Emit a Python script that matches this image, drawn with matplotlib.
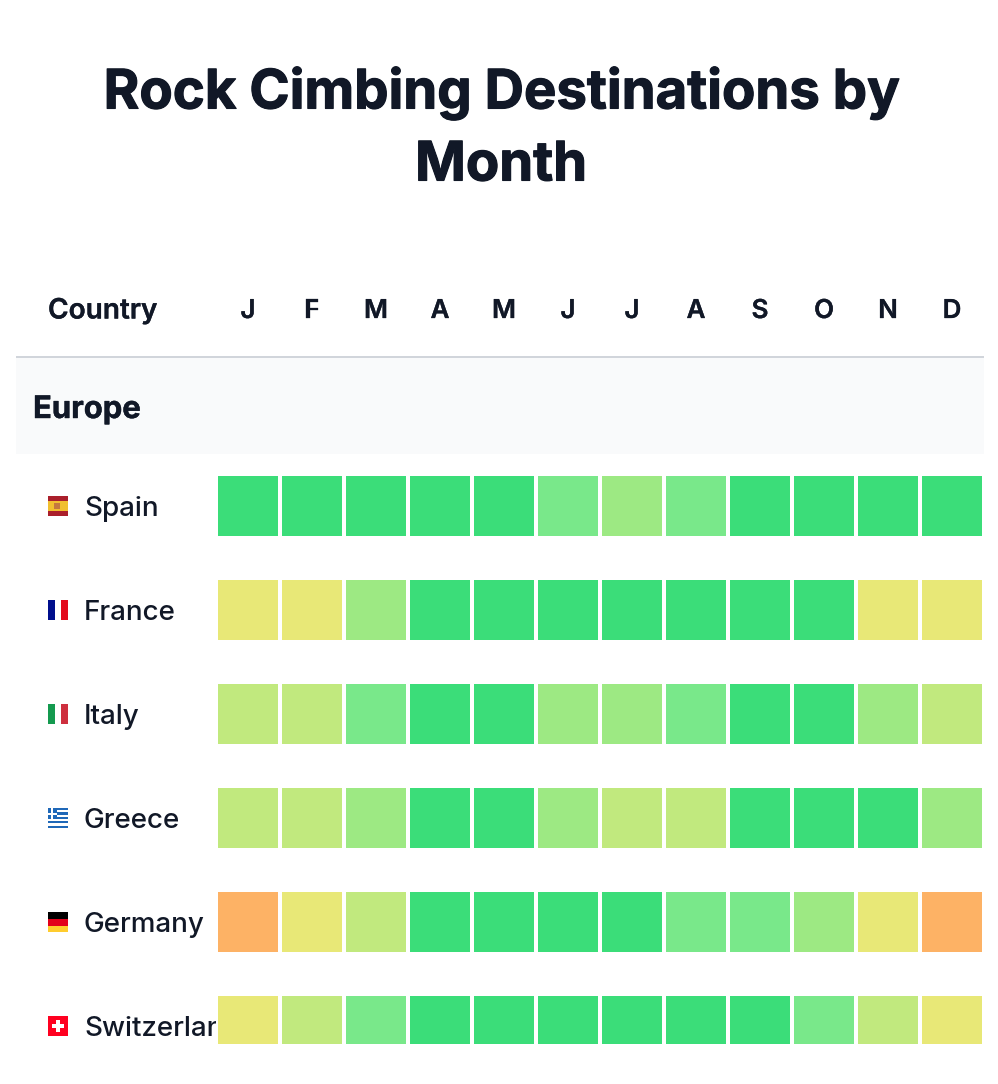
import matplotlib
matplotlib.use("Agg")
import matplotlib.pyplot as plt
import matplotlib.patheffects as pe
from matplotlib.patches import Rectangle
import numpy as np

plt.rcParams['font.family'] = ['Inter', 'DejaVu Sans']

months = ["J", "F", "M", "A", "M", "J", "J", "A", "S", "O", "N", "D"]
countries = ["Spain", "France", "Italy", "Greece", "Germany", "Switzerland"]
spain = [5, 5, 5, 5, 5, 4, 3, 4, 5, 5, 5, 5]
france = [1, 1, 3, 5, 5, 5, 5, 5, 5, 5, 1, 1]
italy = [2, 2, 4, 5, 5, 3, 3, 4, 5, 5, 3, 2]
greece = [2, 2, 3, 5, 5, 3, 2, 2, 5, 5, 5, 3]
germany = [0, 1, 2, 5, 5, 5, 5, 4, 4, 3, 1, 0]
switzerland = [1, 2, 4, 5, 5, 5, 5, 5, 5, 4, 2, 1]
palette = ["#FDB265", "#E8E877", "#C1E97E", "#9DE983", "#79E88A", "#3BDD79"]
INK = "#111827"

W, H = 998, 1084
fig = plt.figure(figsize=(W / 100, H / 100), dpi=100, facecolor="white")

page = fig.add_axes([0, 0, 1, 1])
page.set_xlim(0, W)
page.set_ylim(H, 0)
page.axis("off")

def px(v):
    return v * 0.72

def thick(amount):
    return [pe.withStroke(linewidth=amount, foreground=INK)]

page.text(501, 93, "Rock Cimbing Destinations by", ha="center", va="center",
          fontsize=px(54.5), fontweight="bold", color=INK, path_effects=thick(0.8))
page.text(501, 166.5, "Month", ha="center", va="center",
          fontsize=px(54.5), fontweight="bold", color=INK, path_effects=thick(0.8))
page.text(48, 311, "Country", ha="left", va="center", fontsize=px(28),
          fontweight="semibold", color=INK, path_effects=thick(0.2))
page.add_patch(Rectangle((16, 356), 968, 2, fc="#D1D5DB", ec="none"))
page.add_patch(Rectangle((16, 358), 968, 96, fc="#F9FAFB", ec="none"))
page.text(33, 410, "Europe", ha="left", va="center", fontsize=px(31),
          fontweight="bold", color=INK, path_effects=thick(0.3))

ax = fig.add_axes([216 / W, 1 - 1044 / H, 768 / W, 590 / H], facecolor="none")
ax.set_xlim(-0.5, 11.5)
ax.set_ylim(538 / 104, -0.5)
ax.axis("off")
rows = [spain, france, italy, greece, germany, switzerland]
for r, row in enumerate(rows):
    ax.bar(np.arange(12), [60 / 104] * 12, width=60 / 64,
           bottom=r - 30 / 104, color=[palette[v] for v in row], linewidth=0)

for j, m in enumerate(months):
    page.text(248 + 64 * j, 311, m, ha="center", va="center", fontsize=px(26),
              fontweight="semibold", color=INK, path_effects=thick(0.2))

clip = Rectangle((0, 0), 216, H, transform=page.transData)
for r, name in enumerate(countries):
    t = page.text(84, 509 + 104 * r, name, ha="left", va="center",
                  fontsize=px(27.8), fontweight="medium", color=INK, clip_on=True)
    t.set_clip_path(clip)

def flag(y, bands):
    for (x0, y0, w, h, c) in bands:
        page.add_patch(Rectangle((48 + x0, y + y0), w, h, fc=c, ec="none"))

flag(496, [(0, 0, 20, 5, "#AA1F2B"), (0, 5, 20, 10, "#F1BF2F"), (0, 15, 20, 5, "#AA1F2B"),
           (6, 7, 6, 6, "#C4773F")])
flag(600, [(0, 0, 7, 20, "#000F8D"), (7, 0, 6.5, 20, "#FFFFFF"), (13.5, 0, 6.5, 20, "#E30A1C")])
flag(704, [(0, 0, 7, 20, "#149A4F"), (7, 0, 6.5, 20, "#FFFFFF"), (13.5, 0, 6.5, 20, "#CE2F3E")])
greek = [(0, y0, 20, 2.2, "#1F68B8") for y0 in (0, 4.4, 8.8, 13.2, 17.6)]
greek += [(0, 0, 9, 11, "#1F68B8"), (3.5, 0, 2, 11, "#FFFFFF"), (0, 4.5, 9, 2, "#FFFFFF")]
flag(808, greek)
flag(912, [(0, 0, 20, 7, "#000000"), (0, 7, 20, 6.5, "#E3001B"), (0, 13.5, 20, 6.5, "#FFCC2E")])
flag(1016, [(0, 0, 20, 20, "#FF0020"), (8, 4, 4, 12, "#FFFFFF"), (4, 8, 12, 4, "#FFFFFF")])

fig.savefig("out.png", dpi=100, facecolor="white")
